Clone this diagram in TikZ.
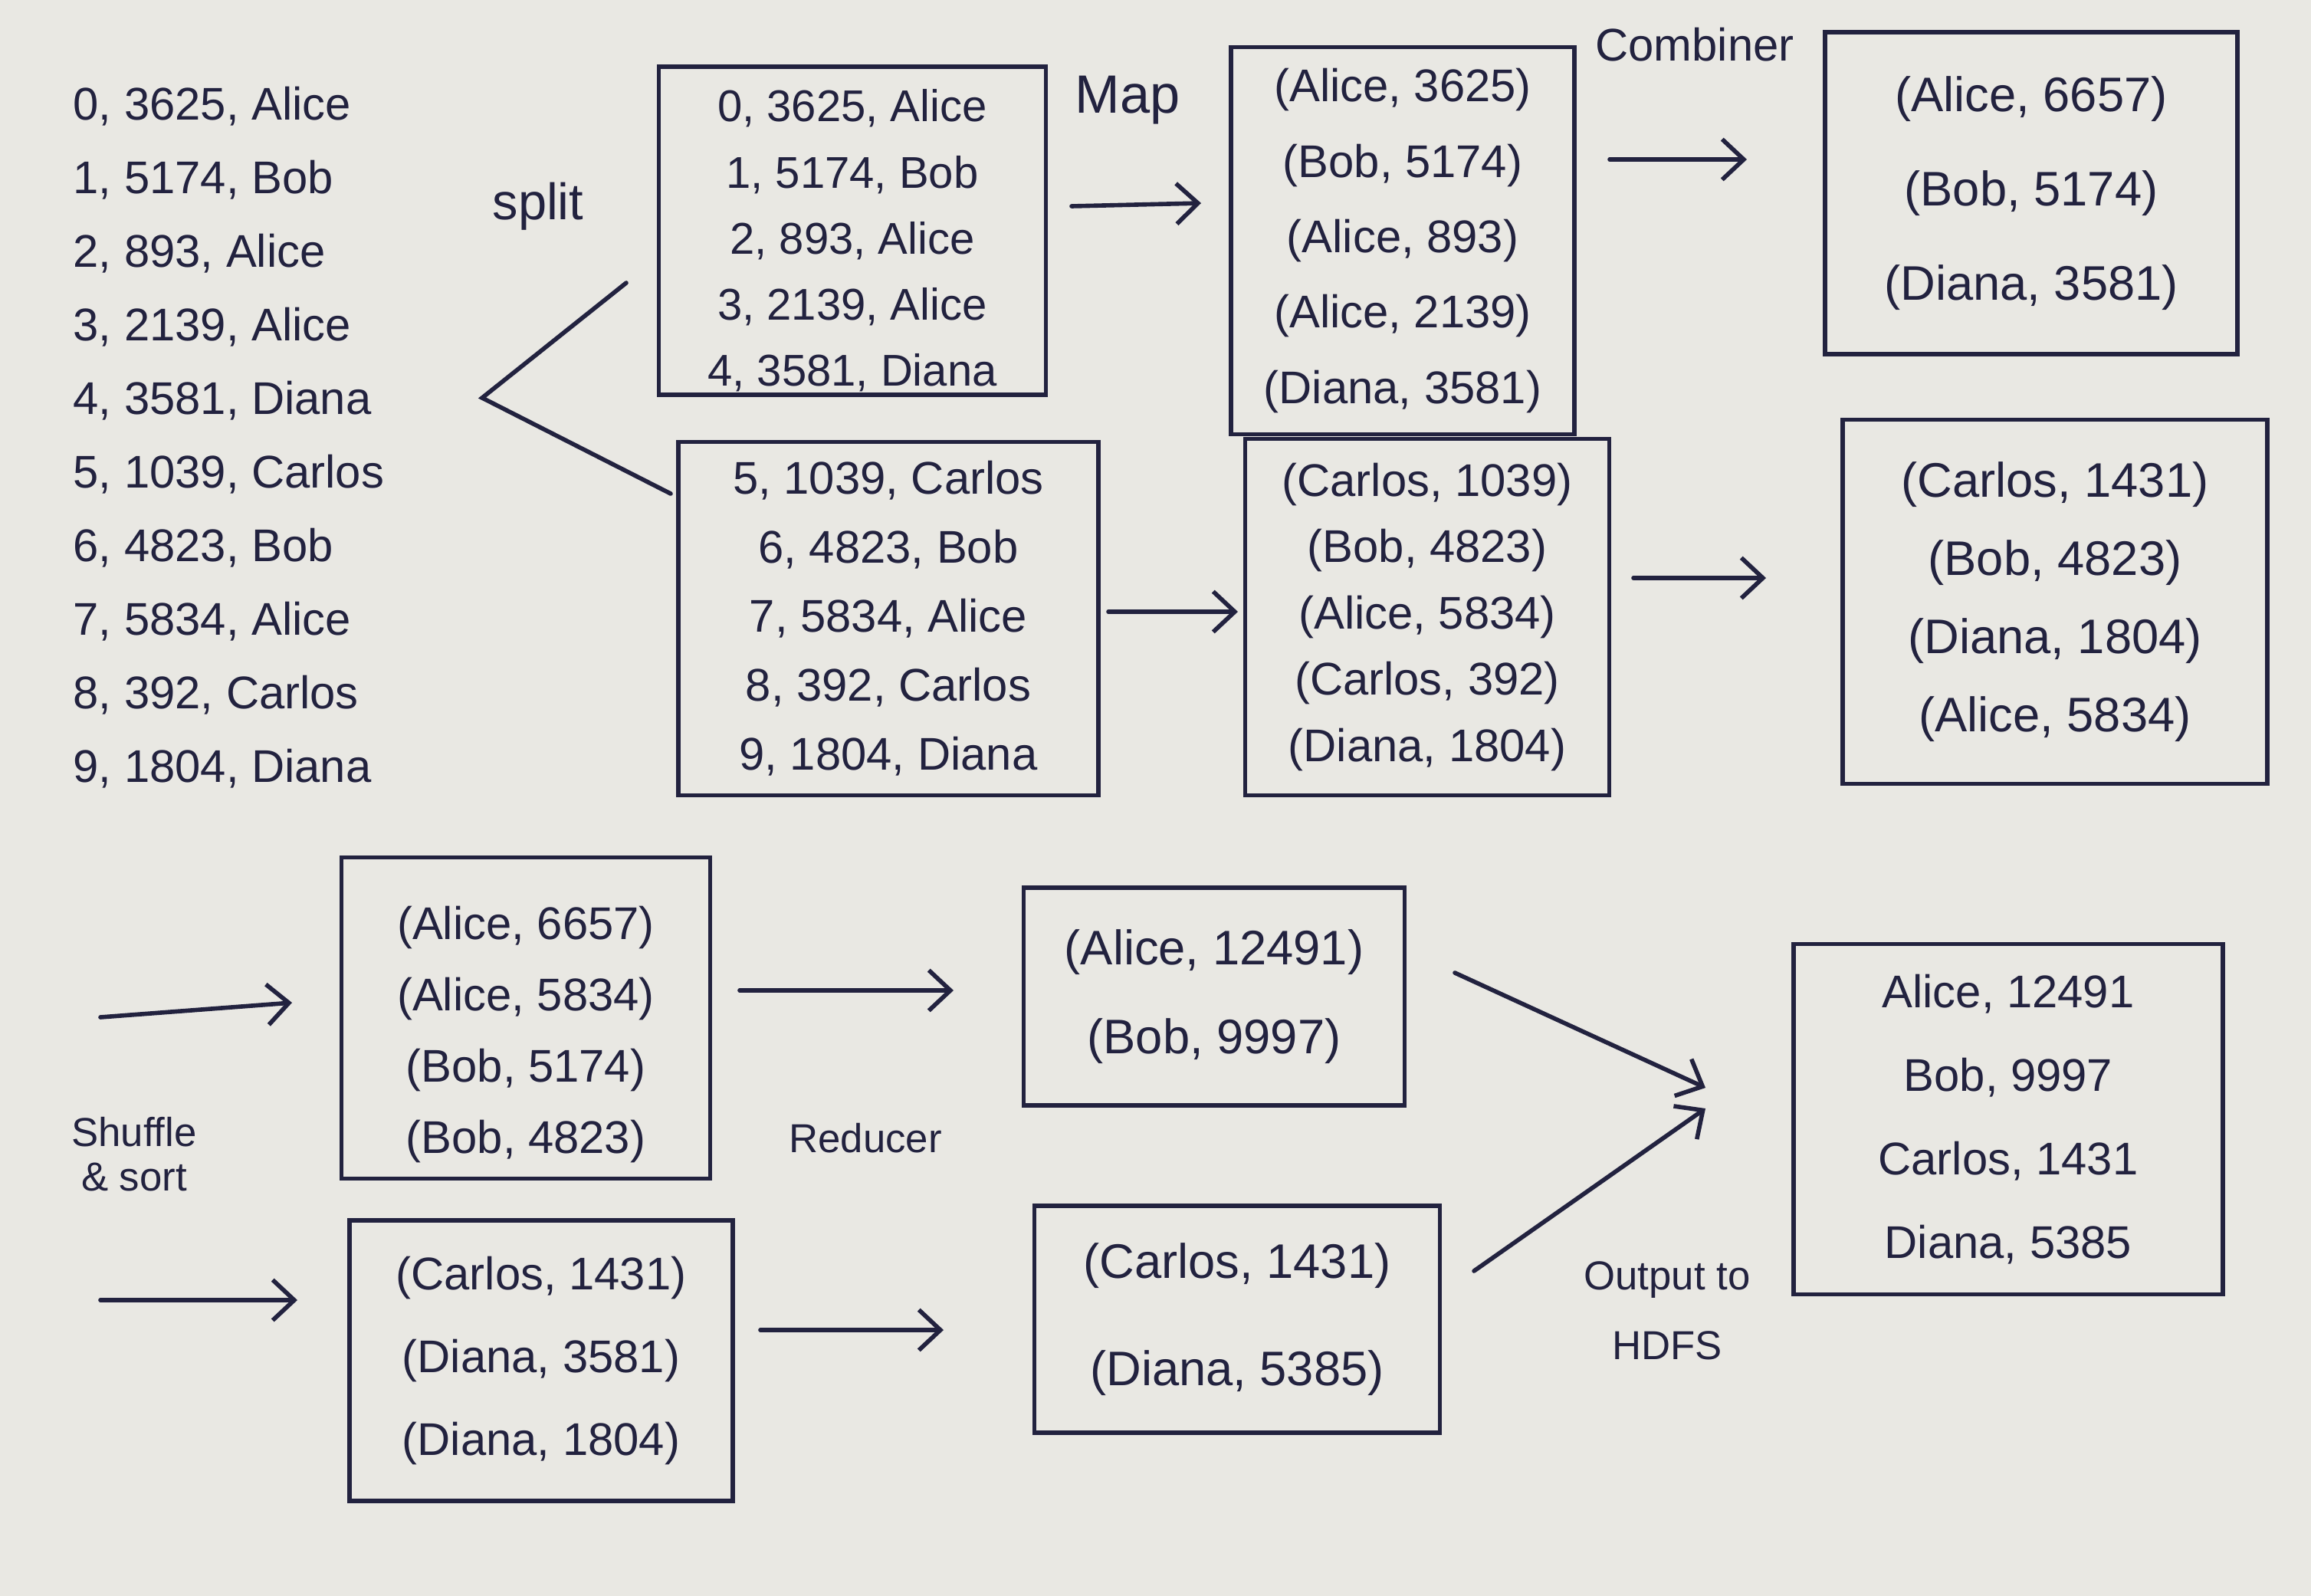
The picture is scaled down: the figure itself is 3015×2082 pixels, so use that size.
\documentclass[tikz,border=0pt]{standalone}
\usepackage{fontspec}
\setmainfont{Liberation Sans}
\usetikzlibrary{arrows.meta,calc}
\definecolor{paper}{HTML}{E9E8E3}
\definecolor{ink}{HTML}{22223F}
\begin{document}
\begin{tikzpicture}[x=0.01cm,y=-0.01cm,
  box/.style={draw=ink, line width=1.6pt, text=ink, inner sep=0pt, align=center},
  lbl/.style={text=ink, inner sep=0pt, align=center},
  arr/.style={draw=ink, line width=1.6pt, line cap=round, -{Straight Barb[length=8pt,width=15pt,line width=1.6pt]}},
  ln/.style={draw=ink, line width=1.6pt, line cap=round}]
\fill[paper] (0,0) rectangle (3015,2082);
\useasboundingbox (0,0) rectangle (3015,2082);

% input list
\node[lbl, anchor=west, align=left, font=\fontsize{17}{27.3}\selectfont] (input) at (95,571)
 {0, 3625, Alice\\1, 5174, Bob\\2, 893, Alice\\3, 2139, Alice\\4, 3581, Diana\\5, 1039, Carlos\\6, 4823, Bob\\7, 5834, Alice\\8, 392, Carlos\\9, 1804, Diana};

% split
\node[lbl, font=\fontsize{19}{22}\selectfont] (split) at (702,269) {split};
\coordinate (sp) at (629,519);
\coordinate (sp1) at (817,369);
\coordinate (sp2) at (875,644);
\draw[ln] (sp1) -- (sp) -- (sp2);

\node[box, minimum width=5.05cm, minimum height=4.28cm, font=\fontsize{16.5}{24.5}\selectfont] (s1) at (1112,301)
 {\rule{0pt}{0.68cm}0, 3625, Alice\\1, 5174, Bob\\2, 893, Alice\\3, 2139, Alice\\4, 3581, Diana};
\node[box, minimum width=5.48cm, minimum height=4.61cm, font=\fontsize{17}{25.6}\selectfont] (s2) at (1159,807)
 {5, 1039, Carlos\\6, 4823, Bob\\7, 5834, Alice\\8, 392, Carlos\\9, 1804, Diana};

% map
\node[lbl, font=\fontsize{20}{24}\selectfont] (map) at (1471,131) {Map};
\node[box, minimum width=4.48cm, minimum height=5.05cm, font=\fontsize{17}{28}\selectfont] (m1) at (1830,314)
 {(Alice, 3625)\\(Bob, 5174)\\(Alice, 893)\\(Alice, 2139)\\(Diana, 3581)};
\node[box, minimum width=4.75cm, minimum height=4.65cm, font=\fontsize{17}{24.6}\selectfont] (m2) at (1862,805)
 {(Carlos, 1039)\\(Bob, 4823)\\(Alice, 5834)\\(Carlos, 392)\\(Diana, 1804)};
\coordinate (a1s) at (1398,269); \coordinate (a1e) at (1567,265);
\coordinate (a2s) at (1446,798); \coordinate (a2e) at (1615,798);
\draw[arr] (a1s) -- (a1e);
\draw[arr] (a2s) -- (a2e);

% combiner
\node[lbl, font=\fontsize{17}{20}\selectfont] (comb) at (2211,58) {Combiner};
\node[box, minimum width=5.38cm, minimum height=4.2cm, font=\fontsize{18}{35}\selectfont] (c1) at (2650,252)
 {(Alice, 6657)\\(Bob, 5174)\\(Diana, 3581)};
\node[box, minimum width=5.54cm, minimum height=4.75cm, font=\fontsize{18}{29}\selectfont] (c2) at (2681,785)
 {(Carlos, 1431)\\(Bob, 4823)\\(Diana, 1804)\\(Alice, 5834)};
\coordinate (a3s) at (2100,208); \coordinate (a3e) at (2279,208);
\coordinate (a4s) at (2131,754); \coordinate (a4e) at (2304,754);
\draw[arr] (a3s) -- (a3e);
\draw[arr] (a4s) -- (a4e);

% shuffle & sort
\node[lbl, font=\fontsize{15}{16.5}\selectfont] (shuf) at (175,1506) {Shuffle\\\& sort};
\coordinate (a5s) at (131,1327); \coordinate (a5e) at (381,1308);
\coordinate (a6s) at (131,1696); \coordinate (a6e) at (388,1696);
\draw[arr] (a5s) -- (a5e);
\draw[arr] (a6s) -- (a6e);
\node[box, minimum width=4.81cm, minimum height=4.19cm, font=\fontsize{17}{26.5}\selectfont] (sh1) at (686,1328)
 {\rule{0pt}{0.86cm}(Alice, 6657)\\(Alice, 5834)\\(Bob, 5174)\\(Bob, 4823)};
\node[box, minimum width=5.0cm, minimum height=3.66cm, font=\fontsize{17}{30.7}\selectfont] (sh2) at (706,1775)
 {(Carlos, 1431)\\(Diana, 3581)\\(Diana, 1804)};

% reducer
\node[lbl, font=\fontsize{15}{18}\selectfont] (red) at (1129,1485) {Reducer};
\coordinate (a7s) at (965,1292); \coordinate (a7e) at (1244,1292);
\coordinate (a8s) at (992,1735); \coordinate (a8e) at (1231,1735);
\draw[arr] (a7s) -- (a7e);
\draw[arr] (a8s) -- (a8e);
\node[box, minimum width=4.97cm, minimum height=2.84cm, font=\fontsize{18}{32.8}\selectfont] (r1) at (1584,1300)
 {(Alice, 12491)\\(Bob, 9997)};
\node[box, minimum width=5.29cm, minimum height=2.96cm, font=\fontsize{18}{40}\selectfont] (r2) at (1614,1721)
 {(Carlos, 1431)\\(Diana, 5385)};

% output
\coordinate (a9s) at (1898,1269); \coordinate (a9e) at (2225,1419);
\coordinate (a10s) at (1923,1658); \coordinate (a10e) at (2225,1446);
\draw[arr] (a9s) -- (a9e);
\draw[arr] (a10s) -- (a10e);
\node[lbl, font=\fontsize{15}{26}\selectfont] (outl) at (2175,1710) {Output to\\HDFS};
\node[box, minimum width=5.6cm, minimum height=4.57cm, font=\fontsize{17}{31}\selectfont] (out) at (2620,1460)
 {Alice, 12491\\Bob, 9997\\Carlos, 1431\\Diana, 5385};
\end{tikzpicture}
\end{document}
